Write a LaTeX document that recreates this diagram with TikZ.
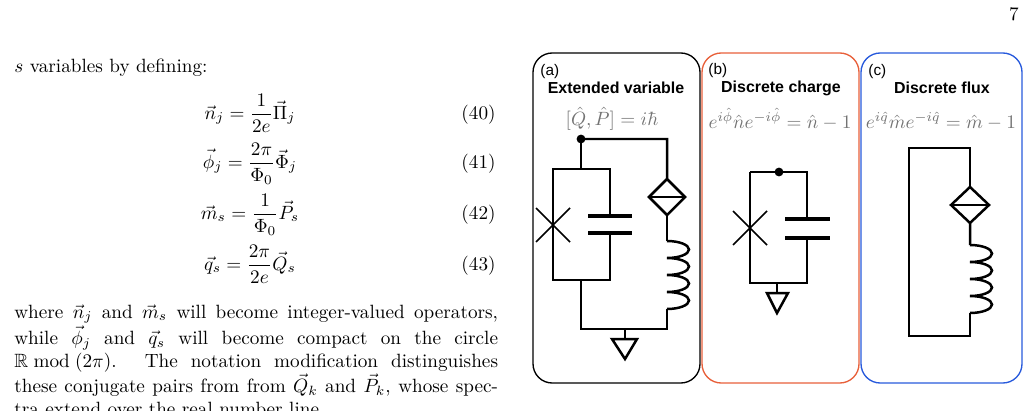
\documentclass[tikz,border=0pt]{standalone}
\usepackage{amsmath}
\usepackage{amssymb}
\usepackage{fontspec}
\newfontfamily\panelfont{Liberation Sans}
\usepackage{tikz}
\usetikzlibrary{positioning}

\begin{document}
\begin{tikzpicture}[
    x=0.521pt, y=-0.521pt,
    body/.style={anchor=base west, inner sep=0pt, font=\normalsize},
    eqn/.style={anchor=base, inner sep=0pt},
    eqnum/.style={anchor=base east, inner sep=0pt},
    panel/.style={
    	rounded corners=10pt,
    	line width=0.7pt
    }, tag/.style={
    	anchor=base west, inner sep=0pt, font=\panelfont\footnotesize
    }, title/.style={
    	anchor=base, inner sep=0pt, font=\panelfont\bfseries\fontsize{8.3}{10}\selectfont
    }, rel/.style={
    	anchor=base, inner sep=0pt, text=black!55
    }, wire/.style={
    	line width=1.3pt
    }, plate/.style={
    	line width=2.6pt
    }, coil/.style={
    	start angle=-90, end angle=90, x radius=22, y radius=8.5
    }]
    \definecolor{my-orange}{RGB}{232, 96, 58}
    \definecolor{my-blue}{RGB}{40, 90, 220}
    \useasboundingbox (0,0) rectangle (1029,410);

    %%% page text
    \node[anchor=base east, inner sep=0pt] (pagenum) at (1019,20) {7};
    \node[body] (intro) at (14,72) {$s$ variables by defining:};

    \node[eqn] (eq40) at (250,119) {$\displaystyle \vec{n}_j = \frac{1}{2e}\vec{\Pi}_j$};
    \node[eqn] (eq41) at (250,168) {$\displaystyle \vec{\phi}_j = \frac{2\pi}{\Phi_0}\vec{\Phi}_j$};
    \node[eqn] (eq42) at (250,219) {$\displaystyle \vec{m}_s = \frac{1}{\Phi_0}\vec{P}_s$};
    \node[eqn] (eq43) at (250,270) {$\displaystyle \vec{q}_s = \frac{2\pi}{2e}\vec{Q}_s$};
    \node[eqnum] (n40) at (496,119) {(40)};
    \node[eqnum] (n41) at (496,168) {(41)};
    \node[eqnum] (n42) at (496,219) {(42)};
    \node[eqnum] (n43) at (496,270) {(43)};

    \node[anchor=north west, inner sep=0pt, text width=252pt, align=justify] (para) at (14,304) {%
    where $\vec{n}_j$ and $\vec{m}_s$ will become integer-valued operators,\linebreak
    while $\vec{\phi}_j$ and $\vec{q}_s$ will become compact on the circle\linebreak
    $\mathbb{R}\bmod(2\pi)$. The notation modification distinguishes\linebreak
    these conjugate pairs from from $\vec{Q}_k$ and $\vec{P}_k$, whose spec-\linebreak
    tra extend over the real number line.};

    %%% panels
    \draw[panel] (533,53) rectangle (700,383);
    \draw[panel, my-orange] (702,53) rectangle (859,383);
    \draw[panel, my-blue] (861,53) rectangle (1022,383);

    \node[tag] (taga) at (540,75) {(a)};
    \node[tag] (tagb) at (708,74) {(b)};
    \node[tag] (tagc) at (868,75) {(c)};
    \node[title] (titlea) at (616,93) {Extended variable};
    \node[title] (titleb) at (781,92) {Discrete charge};
    \node[title] (titlec) at (942,93) {Discrete flux};
    \node[rel] (rela) at (612,125) {$[\hat{Q},\hat{P}]=i\hbar$};
    \node[rel] (relb) at (780,128) {$e^{i\hat{\phi}}\hat{n}e^{-i\hat{\phi}}=\hat{n}-1$};
    \node[rel] (relc) at (941,128) {$e^{i\hat{q}}\hat{m}e^{-i\hat{q}}=\hat{m}-1$};

    %%% circuit (a)
    \fill (581,139) circle (2.3pt);
    \draw[wire] (581,139) -- (667,139) -- (667,179) -- (685,197) -- (667,215) -- (649,197) -- (667,179);
    \draw[wire] (649,197) -- (685,197);
    \draw[wire] (667,215) -- (667,241);
    \draw[wire] (667,241) arc[coil] arc[coil] arc[coil] arc[coil];
    \draw[wire] (667,309) -- (667,329) -- (581,329) -- (581,280);
    \draw[wire] (581,139) -- (581,169) -- (553,169) -- (553,280) -- (610,280) -- (610,233);
    \draw[wire] (581,169) -- (610,169) -- (610,216);
    \draw[plate] (588,216) -- (632,216) (588,233) -- (632,233);
    \draw[line width=0.8pt] (536,208) -- (570,242) (536,242) -- (570,208);
    \draw[wire] (625,329) -- (625,339);
    \draw[wire] (612,339) -- (637,339) -- (625,359) -- cycle;

    %%% circuit (b)
    \fill (779,172) circle (2.3pt);
    \draw[wire] (750,172) -- (807,172) -- (807,219);
    \draw[wire] (807,238) -- (807,283) -- (750,283) -- (750,172);
    \draw[plate] (785,219) -- (830,219) (785,238) -- (830,238);
    \draw[line width=0.8pt] (733,211) -- (767,245) (733,245) -- (767,211);
    \draw[wire] (777,283) -- (777,293);
    \draw[wire] (767,293) -- (788,293) -- (777,313) -- cycle;

    %%% circuit (c)
    \draw[wire] (970,245) -- (970,223) -- (989,205) -- (970,187) -- (951,205) -- (970,223);
    \draw[wire] (951,205) -- (989,205);
    \draw[wire] (970,187) -- (970,148) -- (909,148) -- (909,336) -- (970,336) -- (970,313);
    \draw[wire] (970,245) arc[coil] arc[coil] arc[coil] arc[coil];
\end{tikzpicture}
\end{document}
